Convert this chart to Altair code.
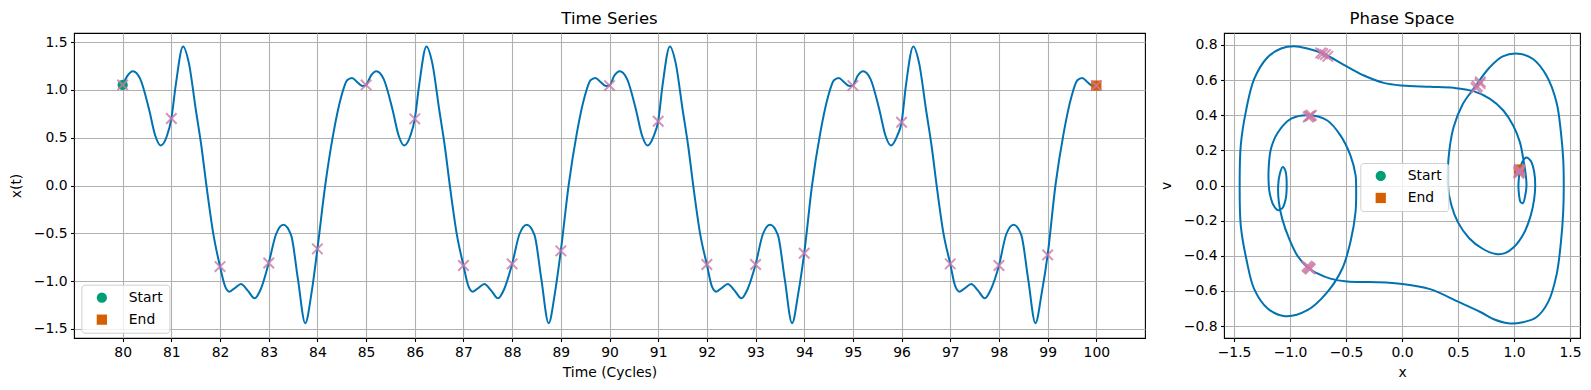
import altair as alt
import pandas as pd

FONT = "DejaVu Sans"
BLUE = "#0072B2"
PINK = "#CC79A7"
GREEN = "#009E73"
ORANGE = "#D55E00"

# ---------------- time series x(t) ----------------
ts_t = [
    80.00, 80.10, 80.21, 80.36, 80.54, 80.67, 80.78, 80.91, 81.00, 81.09, 81.24, 81.36, 81.50,
    81.62, 81.72, 81.86, 82.00, 82.10, 82.19, 82.31, 82.43, 82.57, 82.71, 82.84, 83.00, 83.15,
    83.30, 83.46, 83.60, 83.75, 83.88, 84.00, 84.16, 84.33, 84.49, 84.61, 84.71, 84.82, 84.93,
    85.00, 85.10, 85.21, 85.36, 85.54, 85.67, 85.78, 85.91, 86.00, 86.09, 86.24, 86.36, 86.50,
    86.62, 86.72, 86.86, 87.00, 87.10, 87.19, 87.31, 87.43, 87.57, 87.71, 87.84, 88.00, 88.15,
    88.30, 88.46, 88.60, 88.75, 88.88, 89.00, 89.16, 89.33, 89.49, 89.61, 89.71, 89.82, 89.93,
    90.00, 90.10, 90.21, 90.36, 90.54, 90.67, 90.78, 90.91, 91.00, 91.09, 91.24, 91.36, 91.50,
    91.62, 91.72, 91.86, 92.00, 92.10, 92.19, 92.31, 92.43, 92.57, 92.71, 92.84, 93.00, 93.15,
    93.30, 93.46, 93.60, 93.75, 93.88, 94.00, 94.16, 94.33, 94.49, 94.61, 94.71, 94.82, 94.93,
    95.00, 95.10, 95.21, 95.36, 95.54, 95.67, 95.78, 95.91, 96.00, 96.09, 96.24, 96.36, 96.50,
    96.62, 96.72, 96.86, 97.00, 97.10, 97.19, 97.31, 97.43, 97.57, 97.71, 97.84, 98.00, 98.15,
    98.30, 98.46, 98.60, 98.75, 98.88, 99.00, 99.16, 99.33, 99.49, 99.61, 99.71, 99.82, 99.93,
    100.00,
]
ts_x = [
    1.052, 1.15, 1.195, 1.115, 0.80, 0.52, 0.418, 0.52, 0.700, 1.05, 1.455, 1.28, 0.80,
    0.40, 0.00, -0.50, -0.848, -1.05, -1.11, -1.07, -1.03, -1.10, -1.18, -1.08, -0.810, -0.51,
    -0.41, -0.52, -0.98, -1.44, -1.12, -0.663, 0.00, 0.55, 0.93, 1.10, 1.125, 1.08, 1.04,
    1.052, 1.15, 1.195, 1.115, 0.80, 0.52, 0.418, 0.52, 0.697, 1.05, 1.455, 1.28, 0.80,
    0.40, 0.00, -0.50, -0.837, -1.05, -1.11, -1.07, -1.03, -1.10, -1.18, -1.08, -0.820, -0.51,
    -0.41, -0.52, -0.98, -1.44, -1.12, -0.684, 0.00, 0.55, 0.93, 1.10, 1.125, 1.08, 1.04,
    1.045, 1.15, 1.195, 1.115, 0.80, 0.52, 0.418, 0.52, 0.672, 1.05, 1.455, 1.28, 0.80,
    0.40, 0.00, -0.50, -0.827, -1.05, -1.11, -1.07, -1.03, -1.10, -1.18, -1.08, -0.827, -0.51,
    -0.41, -0.52, -0.98, -1.44, -1.12, -0.708, 0.00, 0.55, 0.93, 1.10, 1.125, 1.08, 1.04,
    1.045, 1.15, 1.195, 1.115, 0.80, 0.52, 0.418, 0.52, 0.662, 1.05, 1.455, 1.28, 0.80,
    0.40, 0.00, -0.50, -0.820, -1.05, -1.11, -1.07, -1.03, -1.10, -1.18, -1.08, -0.837, -0.51,
    -0.41, -0.52, -0.98, -1.44, -1.12, -0.726, 0.00, 0.55, 0.93, 1.10, 1.125, 1.08, 1.04,
    1.045,
]

# ---------------- stroboscopic samples (one per cycle) ----------------
strobe_t = [80, 81, 82, 83, 84, 85, 86, 87, 88, 89, 90, 91, 92, 93, 94, 95, 96, 97, 98, 99, 100]
strobe_x = [1.052, 0.700, -0.848, -0.810, -0.663, 1.052, 0.697, -0.837, -0.820, -0.684, 1.045,
            0.672, -0.827, -0.827, -0.708, 1.045, 0.662, -0.820, -0.837, -0.726, 1.045]
strobe_v = [0.090, 0.590, -0.460, 0.400, 0.735, 0.085, 0.580, -0.465, 0.395, 0.745, 0.080,
            0.565, -0.470, 0.395, 0.750, 0.075, 0.555, -0.475, 0.390, 0.755, 0.070]

# ---------------- phase-space orbit (x, v), traced along the loop ----------------
phase_x = [
    1.05, 1.08, 1.11, 1.15, 1.18, 1.19,
    1.18, 1.15, 1.09, 1.00, 0.92, 0.84, 0.72, 0.60, 0.50, 0.44, 0.41,
    0.415, 0.46, 0.54, 0.65, 0.78, 0.90, 1.04, 1.17, 1.29, 1.38, 1.42, 1.44, 1.445,
    1.44, 1.42, 1.38, 1.305, 1.20, 1.08, 0.95, 0.815, 0.70, 0.51, 0.25, 0.00, -0.22,
    -0.49, -0.64, -0.756, -0.845, -0.934, -1.01, -1.07, -1.10, -1.106,
    -1.09, -1.065, -1.04, -1.03, -1.04, -1.07, -1.11, -1.15, -1.18, -1.19,
    -1.19, -1.17, -1.11, -0.99, -0.83, -0.667, -0.55, -0.46, -0.415, -0.41,
    -0.415, -0.46, -0.534, -0.667, -0.845, -1.044, -1.20, -1.32, -1.39, -1.44, -1.45,
    -1.44, -1.39, -1.32, -1.20, -1.08, -0.964, -0.845, -0.70, -0.52, -0.34, -0.163, 0.00,
    0.252, 0.46, 0.638, 0.786, 0.905, 0.993, 1.053, 1.083, 1.106, 1.112,
    1.10, 1.08, 1.06, 1.045, 1.04, 1.045, 1.05,
]
phase_v = [
    0.09, 0.14, 0.16, 0.14, 0.08, 0.00,
    -0.08, -0.17, -0.27, -0.35, -0.385, -0.39, -0.36, -0.30, -0.21, -0.11, 0.00,
    0.15, 0.33, 0.46, 0.56, 0.67, 0.735, 0.75, 0.72, 0.626, 0.474, 0.30, 0.15, 0.00,
    -0.15, -0.32, -0.51, -0.664, -0.75, -0.778, -0.784, -0.76, -0.72, -0.664, -0.59, -0.56, -0.55,
    -0.547, -0.53, -0.50, -0.465, -0.40, -0.30, -0.19, -0.095, 0.00,
    0.07, 0.105, 0.08, 0.00, -0.08, -0.13, -0.14, -0.11, -0.05, 0.00,
    0.11, 0.21, 0.30, 0.38, 0.40, 0.37, 0.285, 0.17, 0.06, 0.00,
    -0.15, -0.32, -0.474, -0.607, -0.71, -0.744, -0.70, -0.59, -0.42, -0.23, 0.00,
    0.23, 0.436, 0.607, 0.73, 0.78, 0.793, 0.78, 0.75, 0.687, 0.626, 0.584, 0.569,
    0.562, 0.556, 0.537, 0.493, 0.427, 0.342, 0.247, 0.152, 0.057, 0.00,
    -0.06, -0.10, -0.095, -0.05, 0.00, 0.05, 0.09,
]

# ---------------- start / end markers ----------------
se_label = ["Start", "End"]
se_t = [80, 100]
se_x = [1.052, 1.045]
se_px = [1.045, 1.045]
se_pv = [0.09, 0.09]

ts_xticks = [80, 81, 82, 83, 84, 85, 86, 87, 88, 89, 90, 91, 92, 93, 94, 95, 96, 97, 98, 99, 100]
ts_yticks = [-1.5, -1.0, -0.5, 0.0, 0.5, 1.0, 1.5]
ph_xticks = [-1.5, -1.0, -0.5, 0.0, 0.5, 1.0, 1.5]
ph_yticks = [-0.8, -0.6, -0.4, -0.2, 0.0, 0.2, 0.4, 0.6, 0.8]

ts_df = pd.DataFrame({"t": ts_t, "x": ts_x})
strobe_df = pd.DataFrame({"t": strobe_t, "x": strobe_x, "v": strobe_v})
phase_df = pd.DataFrame({"i": list(range(len(phase_x))), "x": phase_x, "v": phase_v})
se_df = pd.DataFrame({"label": se_label, "t": se_t, "x": se_x, "px": se_px, "pv": se_pv})

X_SHAPE = "M-1,-1L1,1M-1,1L1,-1"


def legend_at(lx, ly):
    return alt.Legend(
        title=None, orient="none", legendX=lx, legendY=ly,
        fillColor="rgba(255,255,255,0.8)", strokeColor="#d0d0d0", cornerRadius=3,
        padding=6, rowPadding=7, symbolSize=105, symbolOffset=7.5, labelOffset=20,
        labelFont=FONT, labelFontSize=13.9, labelColor="black", symbolStrokeWidth=0,
    )


def axis(values, fmt, title):
    return alt.Axis(values=values, tickCount=len(values) + 2, format=fmt, title=title)


# ---------------- left panel ----------------
ts_xscale = alt.Scale(domain=[79, 101], nice=False, zero=False)
ts_yscale = alt.Scale(domain=[-1.595, 1.595], nice=False, zero=False)
ts_xaxis = axis(ts_xticks, "d", "Time (Cycles)")
ts_yaxis = axis(ts_yticks, ".1f", "x(t)")

ts_line = alt.Chart(ts_df).mark_line(color=BLUE, strokeWidth=2, interpolate="monotone").encode(
    x=alt.X("t:Q", scale=ts_xscale, axis=ts_xaxis),
    y=alt.Y("x:Q", scale=ts_yscale, axis=ts_yaxis),
)
ts_se = alt.Chart(se_df).mark_point(filled=True, size=105, opacity=1).encode(
    x=alt.X("t:Q", scale=ts_xscale, axis=ts_xaxis),
    y=alt.Y("x:Q", scale=ts_yscale, axis=ts_yaxis),
    color=alt.Color("label:N", scale=alt.Scale(domain=se_label, range=[GREEN, ORANGE]),
                    legend=legend_at(7.4, 251.7)),
    shape=alt.Shape("label:N", scale=alt.Scale(domain=se_label, range=["circle", "square"]),
                    legend=legend_at(7.4, 251.7)),
)
ts_mark = alt.Chart(strobe_df).mark_point(
    shape=X_SHAPE, filled=False, color=PINK, strokeWidth=2, size=110, opacity=0.8
).encode(
    x=alt.X("t:Q", scale=ts_xscale, axis=ts_xaxis),
    y=alt.Y("x:Q", scale=ts_yscale, axis=ts_yaxis),
)
ts_chart = alt.layer(ts_line, ts_se, ts_mark).properties(
    width=1071, height=305,
    title=alt.TitleParams("Time Series", anchor="middle"),
)

# ---------------- right panel ----------------
ph_xscale = alt.Scale(domain=[-1.59, 1.59], nice=False, zero=False)
ph_yscale = alt.Scale(domain=[-0.868, 0.868], nice=False, zero=False)
ph_xaxis = axis(ph_xticks, ".1f", "x")
ph_yaxis = axis(ph_yticks, ".1f", "v")

ph_line = alt.Chart(phase_df).mark_line(color=BLUE, strokeWidth=2, interpolate="catmull-rom").encode(
    x=alt.X("x:Q", scale=ph_xscale, axis=ph_xaxis),
    y=alt.Y("v:Q", scale=ph_yscale, axis=ph_yaxis),
    order=alt.Order("i:Q"),
)
ph_se = alt.Chart(se_df).mark_point(filled=True, size=105, opacity=1).encode(
    x=alt.X("px:Q", scale=ph_xscale, axis=ph_xaxis),
    y=alt.Y("pv:Q", scale=ph_yscale, axis=ph_yaxis),
    color=alt.Color("label:N", scale=alt.Scale(domain=se_label, range=[GREEN, ORANGE]),
                    legend=legend_at(136.3, 130)),
    shape=alt.Shape("label:N", scale=alt.Scale(domain=se_label, range=["circle", "square"]),
                    legend=legend_at(136.3, 130)),
)
ph_mark = alt.Chart(strobe_df).mark_point(
    shape=X_SHAPE, filled=False, color=PINK, strokeWidth=2, size=110, opacity=0.8
).encode(
    x=alt.X("x:Q", scale=ph_xscale, axis=ph_xaxis),
    y=alt.Y("v:Q", scale=ph_yscale, axis=ph_yaxis),
)
ph_chart = alt.layer(ph_line, ph_se, ph_mark).properties(
    width=356, height=305,
    title=alt.TitleParams("Phase Space", anchor="middle"),
)

chart = (
    alt.hconcat(ts_chart, ph_chart, spacing=12)
    .resolve_scale(color="independent", shape="independent")
    .resolve_legend(color="independent", shape="independent")
    .properties(padding={"left": 0, "top": 1, "right": 0, "bottom": 0})
    .configure(font=FONT)
    .configure_view(stroke="black", strokeWidth=1.1)
    .configure_axis(
        labelFont=FONT, labelFontSize=13.9, titleFont=FONT, titleFontSize=13.9,
        titleFontWeight="normal", labelColor="black", titleColor="black",
        tickColor="black", tickSize=3.5, tickWidth=1.1, labelPadding=3.5,
        domain=False, gridColor="#b0b0b0", gridWidth=1.1, gridOpacity=1,
        labelFlush=False, labelOverlap=False,
    )
    .configure_axisY(titlePadding=10)
    .configure_axisX(titlePadding=7)
    .configure_title(font=FONT, fontSize=16.5, fontWeight="normal", color="black", offset=6)
)

chart.save("out.html", embed_options={"renderer": "svg", "actions": False})
